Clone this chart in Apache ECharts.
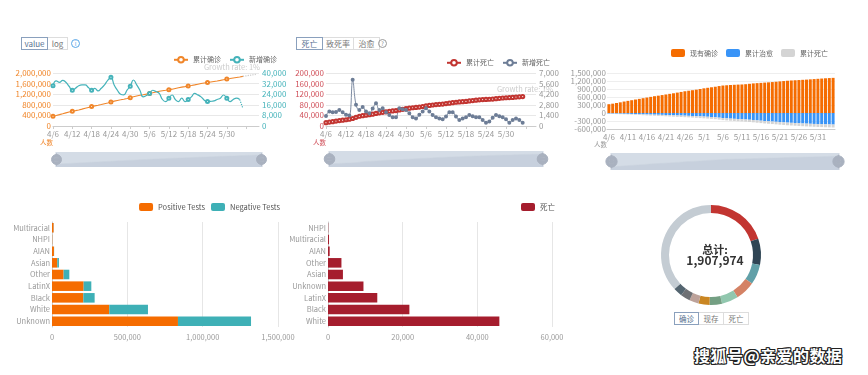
<!DOCTYPE html>
<html>
<head>
<meta charset="utf-8">
<script src="https://cdn.jsdelivr.net/npm/echarts@6/dist/echarts.min.js"></script>
<style>
body{margin:0;width:868px;height:375px;background:#fff;position:relative;overflow:hidden;font-family:"Noto Sans CJK SC",sans-serif;}
.box{position:absolute;}
.btns{position:absolute;display:flex;font-size:8px;color:#777;}
.btns span{display:block;border:1px solid #ddd;height:11px;line-height:11px;margin-left:-1px;background:#fff;text-align:center;}
.btns span.on{border-color:#8aa0bd;color:#56708f;position:relative;}
.icon{position:absolute;width:7px;height:7px;border:1px solid #5aa7e8;border-radius:50%;font-size:6px;line-height:7px;text-align:center;color:#5aa7e8;}
.mark{position:absolute;left:694px;top:343px;font-size:16px;font-weight:bold;color:#fff;letter-spacing:0.5px;
  text-shadow:1px 0 0 #222,-1px 0 0 #222,0 1px 0 #222,0 -1px 0 #222,1px 1px 0 #222,-1px -1px 0 #222,1px -1px 0 #222,-1px 1px 0 #222;}
</style>
</head>
<body>
<div class="btns" style="left:22px;top:37px;"><span class="on" style="width:25px;">value</span><span style="width:19px;">log</span></div>
<div class="icon" style="left:71px;top:39px;">i</div>
<div class="btns" style="left:297px;top:37px;"><span class="on" style="width:25px;">死亡</span><span style="width:30px;">致死率</span><span style="width:25px;">治愈</span></div>
<div class="icon" style="left:378px;top:39px;border-color:#999;color:#888;">?</div>
<div class="btns" style="left:675px;top:312px;font-size:7.5px;"><span class="on" style="width:23px;">确诊</span><span style="width:24px;">现存</span><span style="width:24px;">死亡</span></div>

<div id="c1" class="box" style="left:0;top:30px;width:290px;height:150px;"></div>
<div id="c2" class="box" style="left:290px;top:30px;width:280px;height:150px;"></div>
<div id="c3" class="box" style="left:570px;top:30px;width:298px;height:150px;"></div>
<div id="c4" class="box" style="left:0;top:190px;width:300px;height:160px;"></div>
<div id="c5" class="box" style="left:280px;top:190px;width:290px;height:160px;"></div>
<div id="c6" class="box" style="left:620px;top:190px;width:190px;height:130px;"></div>
<div class="mark">搜狐号@亲爱的数据</div>

<script>
var FONT = '"Noto Sans CJK SC", sans-serif';

// 日期
var dates = ['4/6','4/7','4/8','4/9','4/10','4/11','4/12','4/13','4/14','4/15','4/16','4/17','4/18','4/19','4/20',
  '4/21','4/22','4/23','4/24','4/25','4/26','4/27','4/28','4/29','4/30',
  '5/1','5/2','5/3','5/4','5/5','5/6','5/7','5/8','5/9','5/10','5/11','5/12','5/13','5/14','5/15','5/16',
  '5/17','5/18','5/19','5/20','5/21','5/22','5/23','5/24','5/25','5/26','5/27','5/28','5/29','5/30','5/31',
  '6/1','6/2','6/3','6/4','6/5','6/6','6/7','6/8','6/9'];

// 累计确诊 / 新增确诊
var confirmedTotal = [367000, 397000, 429000, 462000, 496000, 526000, 555000, 580000, 607000, 636000,
  668000, 700000, 732000, 759000, 784000, 811000, 840000, 869000, 905000, 938000,
  965000, 988000, 1012000, 1039000, 1069000, 1103000, 1133000, 1158000, 1180000, 1204000,
  1229000, 1257000, 1283000, 1309000, 1329000, 1347000, 1369000, 1390000, 1417000, 1443000,
  1467000, 1486000, 1508000, 1528000, 1551000, 1577000, 1601000, 1622000, 1643000, 1662000,
  1681000, 1699000, 1721000, 1746000, 1770000, 1790000, 1811000, 1831000, 1851000, 1872000];
var confirmedForecast = [1872000, 1891000, 1910000, 1929000, 1948000];
var newConfirmed = [30400, 34000, 33000, 34500, 33000, 30000, 27000, 28500, 30400, 31000,
  31000, 29000, 27000, 28400, 26500, 28500, 31000, 34500, 36700, 31000,
  27000, 24000, 23500, 27000, 30000, 34700, 31000, 27000, 22000, 23000,
  24600, 27000, 26000, 24600, 20000, 18400, 21000, 23400, 20000, 18400,
  21000, 18400, 20000, 22000, 24600, 23500, 22000, 19500, 18400, 18600,
  19000, 20000, 21000, 23400, 21000, 18400, 20000, 21000, 20000, 13300];

// 累计死亡 / 新增死亡
var deathsTotal = [12700, 14700, 16500, 18600, 20500, 22000, 23500, 25800, 28300, 32900,
  36800, 38900, 40700, 42500, 44800, 47400, 49700, 51700, 53600, 55400,
  56800, 58300, 60600, 63000, 65200, 67100, 68800, 70100, 71400, 73600,
  76000, 77800, 79300, 80800, 81800, 82800, 84500, 86300, 88100, 89700,
  90900, 91900, 92900, 94500, 96000, 97400, 98700, 99800, 100400, 100900,
  101600, 103100, 104400, 105600, 106600, 107200, 108000, 109100, 110100, 111000];
var newDeaths = [1330, 1900, 1800, 1850, 2100, 1800, 1500, 1400, 6100, 2800,
  2100, 2500, 1900, 1700, 2300, 3000, 2100, 2350, 1800, 1460,
  1150, 1150, 2350, 2200, 2100, 1700, 1150, 1000, 1500, 1900,
  2350, 1900, 1460, 1150, 1000, 900, 1240, 1800, 1800, 1240,
  800, 1000, 1150, 1460, 1300, 1150, 1150, 800, 440, 580,
  1100, 1460, 1300, 1150, 900, 440, 800, 1000, 800, 440];

// 现有确诊 / 累计治愈
var activeCases = [330000, 350000, 375000, 400000, 430000, 455000, 480000, 505000, 530000, 555000,
  580000, 605000, 630000, 650000, 672000, 695000, 718000, 740000, 765000, 790000,
  815000, 835000, 855000, 875000, 900000, 925000, 945000, 965000, 985000, 1010000,
  1030000, 1040000, 1050000, 1058000, 1065000, 1070000, 1080000, 1095000, 1110000, 1120000,
  1130000, 1140000, 1150000, 1160000, 1172000, 1185000, 1198000, 1210000, 1220000, 1228000,
  1236000, 1244000, 1252000, 1262000, 1272000, 1282000, 1292000, 1302000, 1310000, 1318000];
var recovered = [20000, 22000, 24000, 26000, 29000, 32000, 36000, 40000, 45000, 50000,
  54000, 58000, 62000, 66000, 70000, 75000, 80000, 85000, 90000, 95000,
  100000, 106000, 112000, 118000, 125000, 132000, 140000, 150000, 160000, 175000,
  190000, 200000, 210000, 218000, 226000, 234000, 242000, 252000, 262000, 275000,
  288000, 300000, 310000, 320000, 330000, 340000, 350000, 360000, 368000, 376000,
  384000, 392000, 398000, 404000, 410000, 416000, 420000, 424000, 428000, 432000];

// 种族
var raceTests = ['Unknown','White','Black','LatinX','Other','Asian','AIAN','NHPI','Multiracial'];
var positiveTests = [836000, 380000, 208000, 210000, 77000, 35000, 13000, 1500, 11000];
var negativeTests = [485000, 257000, 75000, 51000, 38000, 11000, 1000, 300, 1000];
var raceDeaths = ['White','Black','LatinX','Unknown','Asian','Other','AIAN','Multiracial','NHPI'];
var deathsByRace = [45900, 21800, 13200, 9500, 4000, 3600, 450, 270, 60];

// 各州确诊
var states = ['纽约','新泽西','伊利诺伊','加利福尼亚','马萨诸塞','宾夕法尼亚','得克萨斯','密歇根','佛罗里达','马里兰','其他'];
var stateCases = [376000, 162000, 124000, 122000, 102000, 77000, 68000, 58000, 59000, 55000, 704974];
var totalCases = '1,907,974';

var ORANGE = '#f0862a', TEAL = '#45b3ba', RED = '#c23531';
var fmt = function (v) { return Number(v).toLocaleString('en-US'); };
var HANDLE = 'M10.7,11.9v-1.3H9.3v1.3c-4.9,0.3-8.8,4.4-8.8,9.4c0,5,3.9,9.1,8.8,9.4v1.3h1.3v-1.3c4.9-0.3,8.8-4.4,8.8-9.4C19.5,16.3,15.6,12.2,10.7,11.9z M13.3,24.4H6.7V23h6.6V24.4z M13.3,19.6H6.7v-1.4h6.6V19.6z';

function pad(arr, start, len) {
  var out = [];
  for (var i = 0; i < len; i++) out.push(i >= start && i - start < arr.length ? arr[i - start] : null);
  return out;
}
function slider(left, width, top, height) {
  return {
    type: 'slider', left: left, width: width, top: top, height: height,
    showDetail: false, brushSelect: false, moveHandleSize: 0,
    handleIcon: HANDLE, handleSize: '75%',
    handleStyle: {color: '#a9b1bf', borderColor: '#a9b1bf'},
    borderColor: 'transparent', backgroundColor: '#edf0f4',
    fillerColor: 'rgba(167,183,204,0.35)',
    dataBackground: {lineStyle: {color: '#dfe3ea', width: 0.5}, areaStyle: {color: '#d9dee6', opacity: 1}},
    selectedDataBackground: {lineStyle: {color: '#dfe3ea', width: 0.5}, areaStyle: {color: '#d9dee6', opacity: 1}}
  };
}
// 每6天一个标签，最后几天只有刻度
function dayLabel(i) { return i % 6 === 0 && i < 60; }
// 折线上每隔几天画一个点
function sparseSymbol(v, p) { return p.dataIndex % 6 === 0 ? 3 : 0; }
function catAxis(data, tickInterval, labelInterval, boundaryGap) {
  return {
    type: 'category', data: data, boundaryGap: boundaryGap,
    axisLine: {onZero: false, lineStyle: {color: '#ccc'}},
    axisTick: {interval: tickInterval, length: 3, lineStyle: {color: '#ccc'}},
    axisLabel: {interval: labelInterval, fontSize: 8, color: '#999', margin: 4, hideOverlap: false}
  };
}

// 图1 确诊
var c1 = echarts.init(document.getElementById('c1'));
c1.setOption({
  animation: false,
  textStyle: {fontFamily: FONT},
  legend: {right: 8, top: 21, itemWidth: 14, itemHeight: 7, itemGap: 8,
    textStyle: {fontSize: 7, color: '#666'}, data: ['累计确诊', '新增确诊']},
  graphic: [{type: 'text', right: 30, top: 33, style: {text: 'Growth rate: 1%', fill: '#ccc', font: '7.5px ' + FONT}}],
  grid: {left: 53, top: 43, width: 206, height: 53, outerBoundsMode: 'none'},
  xAxis: catAxis(dates, 5, dayLabel, false),
  yAxis: [
    {type: 'value', min: 0, max: 2000000, interval: 400000,
      name: '人数', nameLocation: 'start', nameGap: 13,
      nameTextStyle: {color: ORANGE, fontSize: 6.5, align: 'right', verticalAlign: 'top'},
      axisLine: {show: false}, axisTick: {show: false},
      axisLabel: {color: ORANGE, fontSize: 8, margin: 2, formatter: fmt},
      splitLine: {lineStyle: {color: '#e8e8e8'}}},
    {type: 'value', min: 0, max: 40000, interval: 8000,
      axisLine: {show: false}, axisTick: {show: false},
      axisLabel: {color: TEAL, fontSize: 8, margin: 3, formatter: fmt},
      splitLine: {show: false}}
  ],
  dataZoom: [slider(53, 207, 122, 15)],
  series: [
    {name: '累计确诊', type: 'line', data: confirmedTotal, yAxisIndex: 0, color: ORANGE,
      symbol: 'emptyCircle', symbolSize: sparseSymbol, showAllSymbol: true, itemStyle: {borderWidth: 0.8}, lineStyle: {width: 1.1}},
    {name: '累计确诊', type: 'line', data: pad(confirmedForecast, 59, 65), yAxisIndex: 0,
      showSymbol: false, lineStyle: {type: 'dotted', color: '#c8c8c8', width: 1.2}},
    {name: '新增确诊', type: 'line', data: newConfirmed.slice(0, 59), yAxisIndex: 1, color: TEAL,
      smooth: true, symbol: 'emptyCircle', symbolSize: sparseSymbol, showAllSymbol: true, itemStyle: {borderWidth: 0.8}, lineStyle: {width: 1.2}},
    {name: '新增确诊', type: 'line', data: pad(newConfirmed.slice(58), 58, 65), yAxisIndex: 1,
      showSymbol: false, lineStyle: {type: 'dotted', color: TEAL, width: 1.2}}
  ]
});

// 图2 死亡
var c2 = echarts.init(document.getElementById('c2'));
c2.setOption({
  animation: false,
  textStyle: {fontFamily: FONT},
  legend: {right: 15, top: 24, itemWidth: 14, itemHeight: 7, itemGap: 8,
    textStyle: {fontSize: 7, color: '#666'}, data: ['累计死亡', '新增死亡']},
  graphic: [{type: 'text', right: 17, top: 55, style: {text: 'Growth rate: 1%', fill: '#ccc', font: '7.5px ' + FONT}}],
  grid: {left: 36, top: 43, width: 210, height: 53, outerBoundsMode: 'none'},
  xAxis: catAxis(dates.slice(0, 64), 5, dayLabel, false),
  yAxis: [
    {type: 'value', min: 0, max: 200000, interval: 40000,
      name: '人数', nameLocation: 'start', nameGap: 13,
      nameTextStyle: {color: '#d0505a', fontSize: 6.5, align: 'right', verticalAlign: 'top'},
      axisLine: {show: false}, axisTick: {show: false},
      axisLabel: {color: '#d0505a', fontSize: 8, margin: 2, formatter: fmt},
      splitLine: {lineStyle: {color: '#e8e8e8'}}},
    {type: 'value', min: 0, max: 7000, interval: 1400,
      axisLine: {show: false}, axisTick: {show: false},
      axisLabel: {color: '#999', fontSize: 8, margin: 3, formatter: fmt},
      splitLine: {show: false}}
  ],
  dataZoom: [slider(36, 215, 121, 16)],
  series: [
    {name: '累计死亡', type: 'line', data: deathsTotal, yAxisIndex: 0, color: RED,
      symbol: 'emptyCircle', symbolSize: 3.2, showAllSymbol: true, itemStyle: {borderWidth: 0.7}, lineStyle: {width: 0.7}},
    {name: '新增死亡', type: 'line', data: newDeaths, yAxisIndex: 1, color: '#6d7d96',
      smooth: 0.4, symbol: 'emptyCircle', symbolSize: 2, showAllSymbol: true, itemStyle: {borderWidth: 0.6}, lineStyle: {width: 0.9}}
  ]
});

// 图3 现有确诊 / 治愈 / 死亡
var c3 = echarts.init(document.getElementById('c3'));
c3.setOption({
  animation: false,
  textStyle: {fontFamily: FONT},
  legend: {right: 35, top: 14, itemWidth: 14, itemHeight: 8, itemGap: 8,
    textStyle: {fontSize: 7, color: '#666'}, data: ['现有确诊', '累计治愈', '累计死亡']},
  grid: {left: 37, top: 43, width: 228, height: 56, outerBoundsMode: 'none'},
  xAxis: catAxis(dates.slice(0, 60), 4, 4, true),
  yAxis: {type: 'value', min: -600000, max: 1500000, interval: 300000,
    name: '人数', nameLocation: 'start', nameGap: 12,
    nameTextStyle: {color: '#999', fontSize: 6.5, align: 'right', verticalAlign: 'top'},
    axisLine: {show: false}, axisTick: {show: false},
    axisLabel: {color: '#999', fontSize: 8, margin: 1, formatter: fmt},
    splitLine: {lineStyle: {color: '#eee'}}},
  dataZoom: [slider(38, 229, 123, 17)],
  series: [
    {name: '现有确诊', type: 'bar', stack: 'a', data: activeCases, color: '#f56c00', barCategoryGap: '22%'},
    {name: '累计治愈', type: 'bar', stack: 'a', data: recovered.map(function (v) { return -v; }), color: '#3994f7'},
    {name: '累计死亡', type: 'bar', stack: 'a', data: deathsTotal.map(function (v) { return -v; }), color: '#d4d4d4'}
  ]
});

// 图4 检测
var c4 = echarts.init(document.getElementById('c4'));
c4.setOption({
  animation: false,
  textStyle: {fontFamily: FONT},
  legend: {right: 15, top: 8, itemWidth: 14, itemHeight: 8, itemGap: 6,
    textStyle: {fontSize: 7.5, color: '#555'}, data: ['Positive Tests', 'Negative Tests']},
  grid: {left: 52, top: 32, width: 226, height: 105, outerBoundsMode: 'none'},
  xAxis: {type: 'value', min: 0, max: 1500000, interval: 500000,
    axisLine: {show: false}, axisTick: {show: false},
    axisLabel: {color: '#999', fontSize: 7.5, margin: 6, formatter: fmt},
    splitLine: {lineStyle: {color: '#e6e6e6'}}},
  yAxis: {type: 'category', data: raceTests,
    axisLine: {lineStyle: {color: '#ccc'}}, axisTick: {length: 2, lineStyle: {color: '#ccc'}},
    axisLabel: {color: '#999', fontSize: 7.5, margin: 2, hideOverlap: false}},
  series: [
    {name: 'Positive Tests', type: 'bar', stack: 't', data: positiveTests, color: '#f56c00', barWidth: '82%'},
    {name: 'Negative Tests', type: 'bar', stack: 't', data: negativeTests, color: '#3eb0b6'}
  ]
});

// 图5 死亡（种族）
var c5 = echarts.init(document.getElementById('c5'));
c5.setOption({
  animation: false,
  textStyle: {fontFamily: FONT},
  legend: {right: 10, top: 8, itemWidth: 14, itemHeight: 8,
    textStyle: {fontSize: 7.5, color: '#555'}, data: ['死亡']},
  grid: {left: 48, top: 32, width: 224, height: 105, outerBoundsMode: 'none'},
  xAxis: {type: 'value', min: 0, max: 60000, interval: 20000,
    axisLine: {show: false}, axisTick: {show: false},
    axisLabel: {color: '#999', fontSize: 7.5, margin: 6, formatter: fmt},
    splitLine: {lineStyle: {color: '#e6e6e6'}}},
  yAxis: {type: 'category', data: raceDeaths,
    axisLine: {lineStyle: {color: '#ccc'}}, axisTick: {length: 2, lineStyle: {color: '#ccc'}},
    axisLabel: {color: '#999', fontSize: 7.5, margin: 2, hideOverlap: false}},
  series: [
    {name: '死亡', type: 'bar', data: deathsByRace, color: '#a51d2d', barWidth: '82%'}
  ]
});

// 图6 各州占比
var c6 = echarts.init(document.getElementById('c6'));
var pieData = states.map(function (s, i) { return {name: s, value: stateCases[i]}; });
c6.setOption({
  animation: false,
  textStyle: {fontFamily: FONT},
  color: ['#c23531', '#2f4554', '#61a0a8', '#d48265', '#91c7ae', '#749f83', '#ca8622', '#bda29a', '#6e7074', '#546570', '#c4ccd3'],
  graphic: [
    {type: 'text', left: 'center', top: 54, style: {text: '总计:', fill: '#333', font: 'bold 11px ' + FONT}},
    {type: 'text', left: 'center', top: 64, style: {text: totalCases, fill: '#333', font: 'bold 12px ' + FONT}}
  ],
  series: [{
    type: 'pie', center: [91, 65], radius: [42, 50], data: pieData,
    label: {show: false}, labelLine: {show: false}, silent: true
  }]
});
</script>
</body>
</html>
